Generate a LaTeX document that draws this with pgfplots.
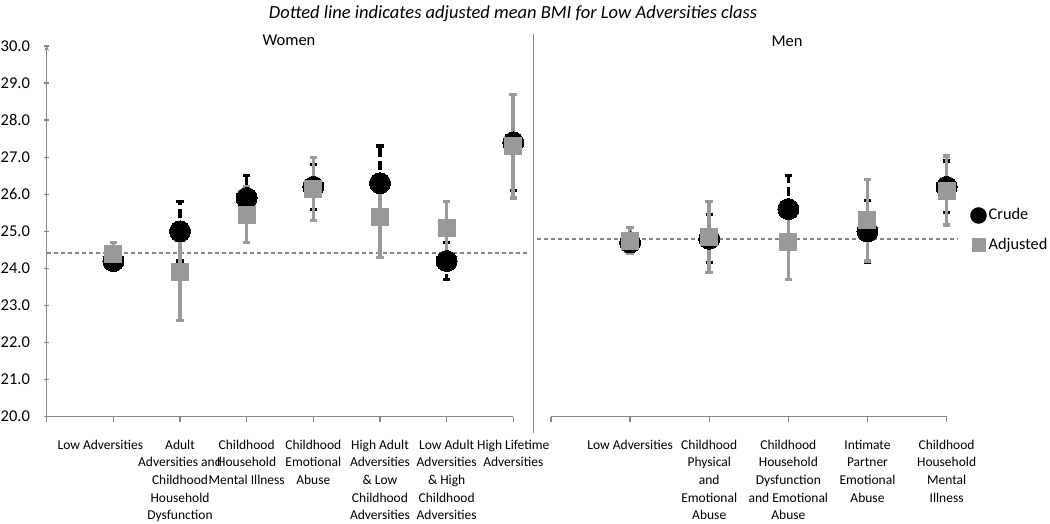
\documentclass[border=0pt]{standalone}
\usepackage{fontspec}
\setmainfont{Carlito}
\usepackage{pgfplots}
\pgfplotsset{compat=1.18}
\usepackage{pgfplotstable}

\definecolor{adj}{RGB}{153,153,153}
\definecolor{axgray}{RGB}{134,134,134}

% Women
\pgfplotstableread{
x y e
1 24.2 0.25
2 25.0 0.8
3 25.9 0.6
4 26.2 0.6
5 26.3 1.0
6 24.2 0.5
7 27.4 1.3
}\wcrude
\pgfplotstableread{
x y e
1 24.4 0.3
2 23.9 1.3
3 25.45 0.75
4 26.15 0.85
5 25.4 1.1
6 25.1 0.7
7 27.3 1.4
}\wadj
% Men
\pgfplotstableread{
x y e
1 24.7 0.25
2 24.8 0.65
3 25.6 0.9
4 25.0 0.83
5 26.2 0.7
}\mcrude
\pgfplotstableread{
x y e
1 24.75 0.35
2 24.85 0.95
3 24.7 1.0
4 25.3 1.1
5 26.1 0.93
}\madj

\pgfplotsset{
  errcrude/.style={only marks, mark=none, forget plot,
    error bars/.cd, y dir=both, y explicit,
    error bar style={line width=3.2pt, black, dash pattern=on 9pt off 4pt},
    error mark options={rotate=90, black, mark size=3.6pt, line width=3.2pt, solid}},
  erradj/.style={only marks, mark=none, forget plot,
    error bars/.cd, y dir=both, y explicit,
    error bar style={line width=3.6pt, adj, solid},
    error mark options={rotate=90, adj, mark size=3.8pt, line width=3.2pt, solid}},
  mkcrude/.style={only marks, mark=*, mark size=10.5pt,
    mark options={fill=black, draw=black, line width=0pt}},
  mkadj/.style={only marks, mark=square*, mark size=8.5pt,
    mark options={fill=adj, draw=adj, line width=0pt}},
  refline/.style={no marks, forget plot, axgray, line width=1.4pt, dash pattern=on 4pt off 3pt},
  common/.style={
    scale only axis, height=370.7pt,
    ymin=20, ymax=30, clip=false,
    axis x line=bottom,
    axis line style={axgray, line width=1.1pt, -},
    tick style={axgray, line width=1.3pt},
    major tick length=5pt,
    tick align=outside,
    /pgf/number format/assume math mode=true,
    xticklabel style={align=center, font=\fontsize{13.5}{17.6}\selectfont, anchor=north, inner sep=0pt, yshift=-18pt, text=black},
  },
}

\begin{document}
\begin{tikzpicture}
\useasboundingbox (0,0) rectangle (1050pt,523pt);
\begin{axis}[common,
  at={(46.7pt,106.3pt)}, anchor=south west,
  width=466.6pt,
  xmin=0, xmax=7,
  axis y line=left,
  xtick={0,...,7},
  xticklabels={{},{\hspace*{-26pt}Low Adversities},{Adult\\Adversities and\\Childhood\\Household\\Dysfunction},{Childhood\\Household\\Mental Illness},{Childhood\\Emotional\\Abuse},{High Adult\\Adversities\\\& Low\\Childhood\\Adversities},{Low Adult\\Adversities\\\& High\\Childhood\\Adversities},{High Lifetime\\Adversities}},
  ytick={20,21,...,30},
  yticklabel={\pgfmathprintnumber[fixed,fixed zerofill,precision=1]{\tick}},
  yticklabel style={font=\fontsize{16.5}{19}\selectfont, anchor=east, inner sep=0pt, xshift=-14pt, text=black},
]
\addplot[refline] coordinates {(0,24.42) (7.2,24.42)};
\addplot[errcrude] table[x=x,y=y,y error=e]{\wcrude};
\addplot[erradj] table[x=x,y=y,y error=e]{\wadj};
\addplot[mkcrude, forget plot] table[x=x,y=y]{\wcrude};
\addplot[mkadj, forget plot] table[x=x,y=y]{\wadj};
\end{axis}

\begin{axis}[common,
  at={(551pt,106.3pt)}, anchor=south west,
  width=395.6pt,
  xmin=0, xmax=5,
  axis y line=none,
  xtick={0,...,5},
  xticklabels={{},{Low Adversities},{Childhood\\Physical\\and\\Emotional\\Abuse},{Childhood\\Household\\Dysfunction\\and Emotional\\Abuse},{Intimate\\Partner\\Emotional\\Abuse},{Childhood\\Household\\Mental\\Illness}},
  legend style={draw=none, fill=none, at={(axis cs:5.297,25.03)}, anchor=west, inner sep=0pt,
    font=\fontsize{16.3}{19}\selectfont, row sep=13.5pt, column sep=2pt,
    nodes={inner sep=0pt, text height=12pt, text depth=4pt}},
  legend cell align=left,
]
\addplot[refline] coordinates {(-0.18,24.79) (5.14,24.79)};
\addplot[errcrude] table[x=x,y=y,y error=e]{\mcrude};
\addplot[erradj] table[x=x,y=y,y error=e]{\madj};
\addplot[mkcrude, legend image code/.code={\fill[black] (8pt,0pt) circle (8pt);}] table[x=x,y=y]{\mcrude};
\addlegendentry{Crude}
\addplot[mkadj, legend image code/.code={\fill[adj] (1.5pt,-6.5pt) rectangle (14.5pt,6.5pt);}] table[x=x,y=y]{\madj};
\addlegendentry{Adjusted}
\end{axis}

\draw[axgray, line width=1.3pt] (533.5pt,90pt) -- (533.5pt,489pt);
\node[font=\fontsize{16.5}{19}\selectfont] at (289pt,483pt) {Women};
\node[font=\fontsize{16.5}{19}\selectfont] at (787pt,482pt) {Men};
\node[font=\fontsize{18.5}{22}\selectfont\itshape] at (513pt,509pt) {Dotted line indicates adjusted mean BMI for Low Adversities class};
\end{tikzpicture}
\end{document}
